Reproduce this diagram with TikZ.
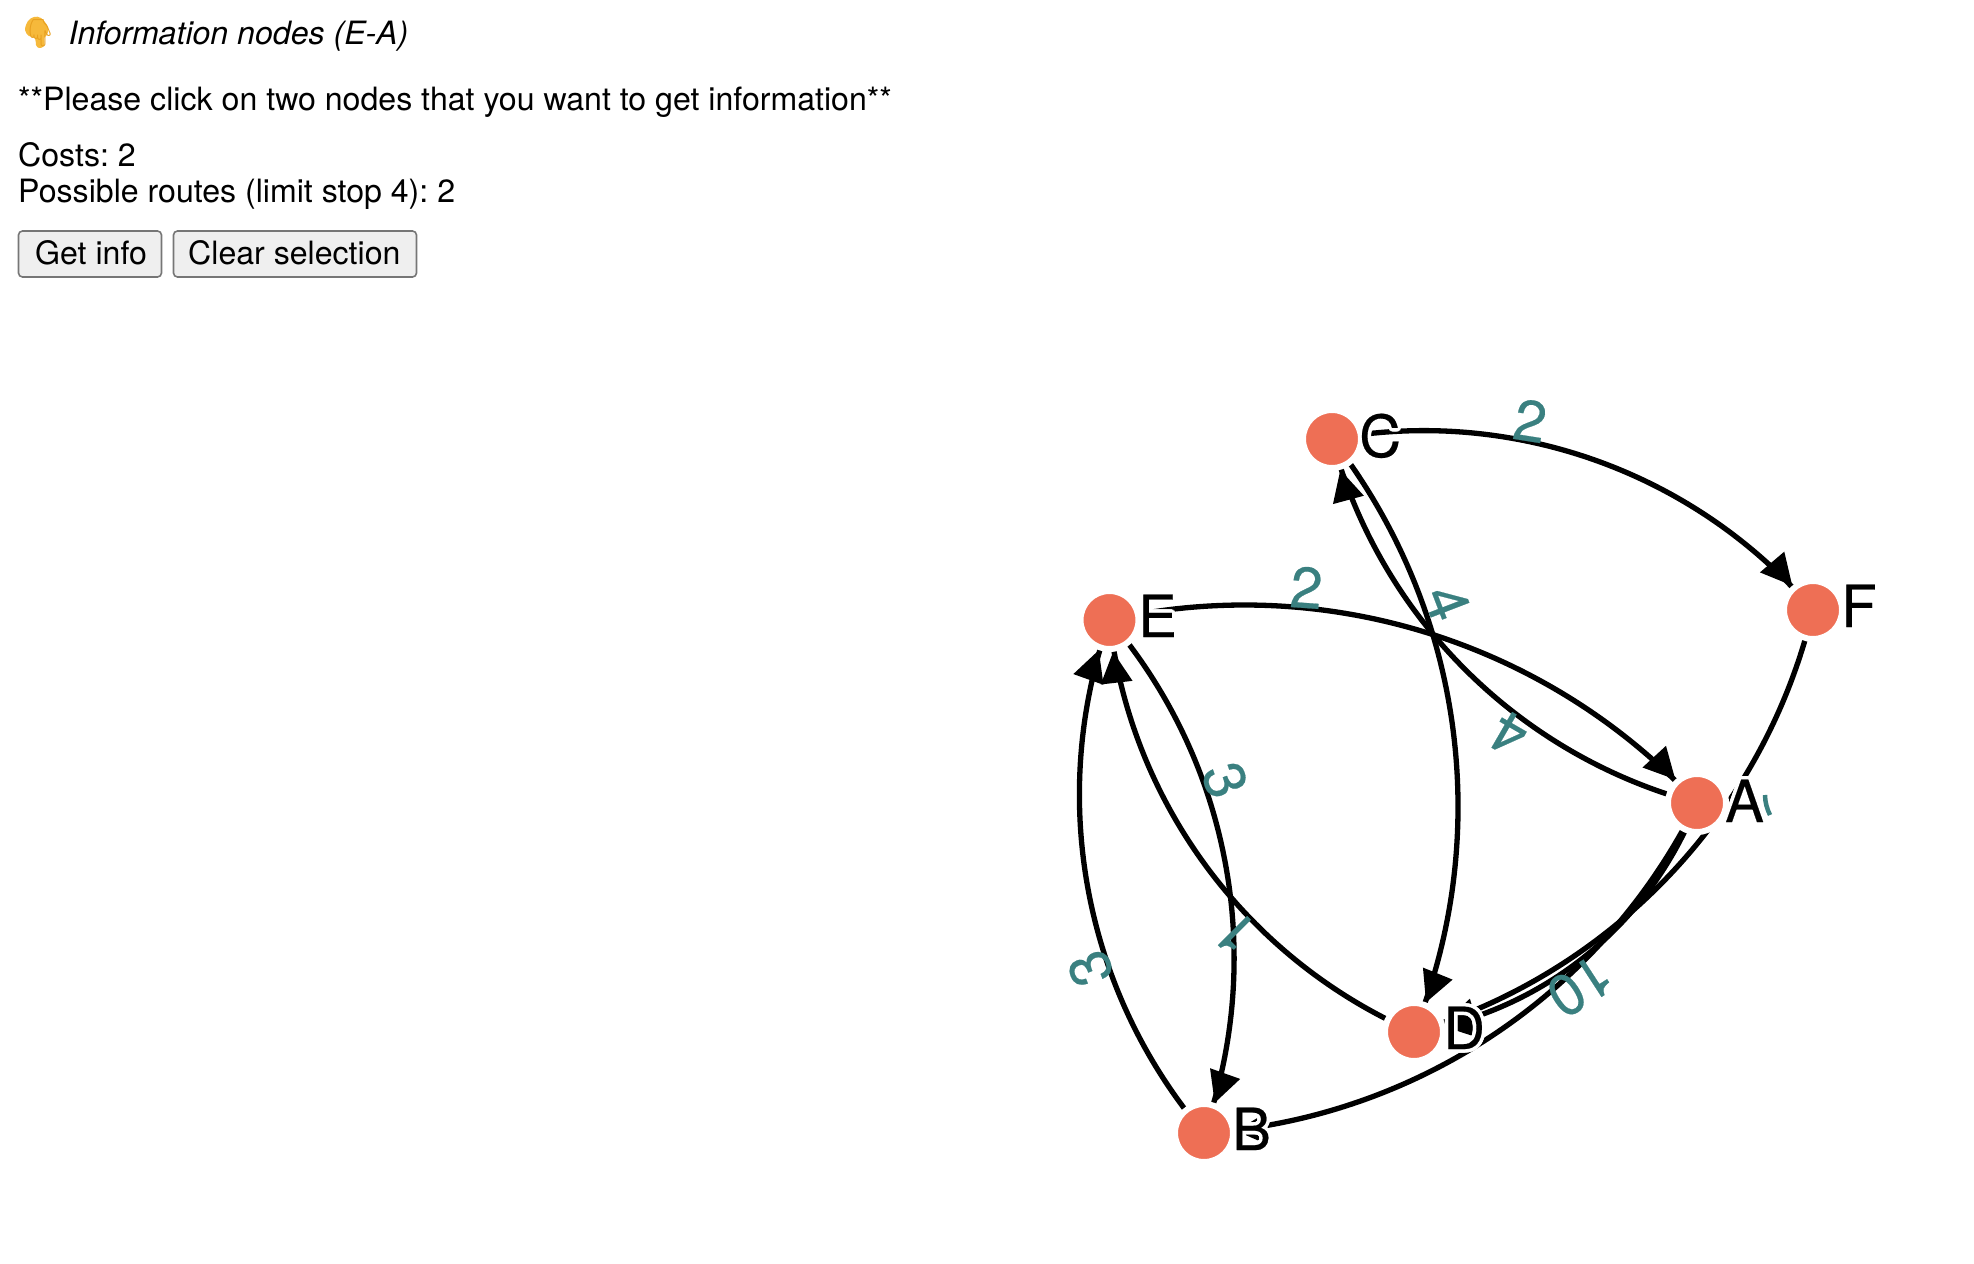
\documentclass[tikz,border=0pt]{standalone}
\usepackage{fontspec}
\usepackage[copies]{contour}
\setmainfont{TeX Gyre Heros}
\newfontfamily\emojifont{Noto Emoji}
\newfontfamily\graphfont[FakeBold=0.35]{TeX Gyre Heros}
\frenchspacing
\usetikzlibrary{decorations.markings}
\pgfdeclarelayer{edges}
\pgfsetlayers{edges,main}
\definecolor{nodeorange}{HTML}{EE6F55}
\definecolor{labelteal}{HTML}{3A8080}
\definecolor{btnfill}{HTML}{EFEFEF}
\definecolor{btnline}{HTML}{767676}
\definecolor{handyellow}{HTML}{F6B93B}
\definecolor{handdark}{HTML}{E8A020}
\contourlength{3.5pt}
\tikzset{
  x=1pt,y=-1pt,
  gnode/.style={circle,fill=nodeorange,draw=white,line width=6pt,minimum size=58pt,inner sep=0pt},
  gname/.style={inner sep=0pt,anchor=base west,font=\graphfont\fontsize{58}{58}\selectfont},
  elabel/.style={inner sep=0pt,text=labelteal,anchor=base,font=\graphfont\fontsize{58}{58}\selectfont},
  pagetext/.style={inner sep=0pt,anchor=base west,font=\fontsize{32.1}{34}\selectfont},
  pagebtn/.style={inner sep=0pt,outer sep=0pt,draw=btnline,line width=1.6pt,fill=btnfill,rounded corners=4pt,anchor=north west},
  arcedge/.style={draw=black,line width=5.3pt,bend left=30,looseness=0.913,
    postaction={decorate,decoration={markings,mark=at position 0.9999 with {\fill[black] (-32pt,0pt)--(-63pt,16pt)--(-63pt,-16pt)--cycle;}}}},
}
\begin{document}
\begin{tikzpicture}
\useasboundingbox (0,0) rectangle (1974,1264);
% page text
\fill[handyellow] plot[smooth cycle,tension=0.6] coordinates {(25,30) (28,21) (34,17) (41,18) (48,27) (47,35) (44,38) (44,46) (39,48) (36,45) (35,38) (29,36)};
\node[pagetext,text=handdark,font=\emojifont\fontsize{27}{27}\selectfont] (hand) at (23,42) {^^^^^^01f447};
\node[pagetext,font=\itshape\fontsize{32.1}{34}\selectfont] (title) at (68.5,44) {Information nodes (E-A)};
\node[pagetext] (please) at (18,110) {**Please click on two nodes that you want to get information**};
\node[pagetext] (costs) at (18,166) {Costs: 2};
\node[pagetext] (routes) at (18,202) {Possible routes (limit stop 4): 2};
\node[pagebtn,minimum width=143pt,minimum height=46pt] (getinfo) at (18.5,231) {};
\node[pagetext] (getinfotext) at (35,264) {Get info};
\node[pagebtn,minimum width=243pt,minimum height=46pt] (clearsel) at (173.5,231) {};
\node[pagetext] (cleartext) at (188,264) {Clear selection};
% graph nodes
\node[gnode] (A) at (1697,803) {};
\node[gnode] (B) at (1204,1133) {};
\node[gnode] (C) at (1332,439) {};
\node[gnode] (D) at (1414,1032) {};
\node[gnode] (E) at (1109.5,620) {};
\node[gnode] (F) at (1813,610) {};
% connectors
\begin{pgfonlayer}{edges}
\draw[arcedge] (C.center) to (F.center);
\draw[arcedge] (E.center) to (A.center);
\draw[arcedge] (A.center) to (C.center);
\draw[arcedge] (C.center) to (D.center);
\draw[arcedge] (D.center) to (E.center);
\draw[arcedge] (E.center) to (B.center);
\draw[arcedge] (B.center) to (E.center);
\draw[arcedge] (A.center) to (B.center);
\draw[arcedge] (A.center) to (D.center);
\draw[arcedge] (F.center) to (D.center);
% edge labels
\node[elabel,rotate=-9] (lcf) at (1527,441) {2};
\node[elabel,rotate=-4] (lea) at (1305,608) {2};
\node[elabel,rotate=-69] (lcd) at (1428,610) {4};
\node[elabel,rotate=150] (lac) at (1519,716) {4};
\node[elabel,rotate=-70] (lebu) at (1206,787) {3};
\node[elabel,rotate=111] (lbe) at (1109,961) {3};
\node[elabel,rotate=135] (lde) at (1250,919) {1};
\node[elabel,rotate=-147] (lab) at (1569,969) {10};
\end{pgfonlayer}
% node names
\node[gname] (nA) at (1725,822) {\contour{white}{A}};
\node[gname] (nB) at (1232,1150) {\contour{white}{B}};
\node[gname] (nC) at (1359,457) {\contour{white}{C}};
\node[gname] (nD) at (1443,1049) {\contour{white}{D}};
\node[gname] (nE) at (1138,637) {\contour{white}{E}};
\node[gname] (nF) at (1841,627) {\contour{white}{F}};
% remnant of a hidden label beside A
\draw[labelteal,line width=4.5pt] (1765,795) .. controls (1765,802) and (1767,809) .. (1770,815);
\end{tikzpicture}
\end{document}
